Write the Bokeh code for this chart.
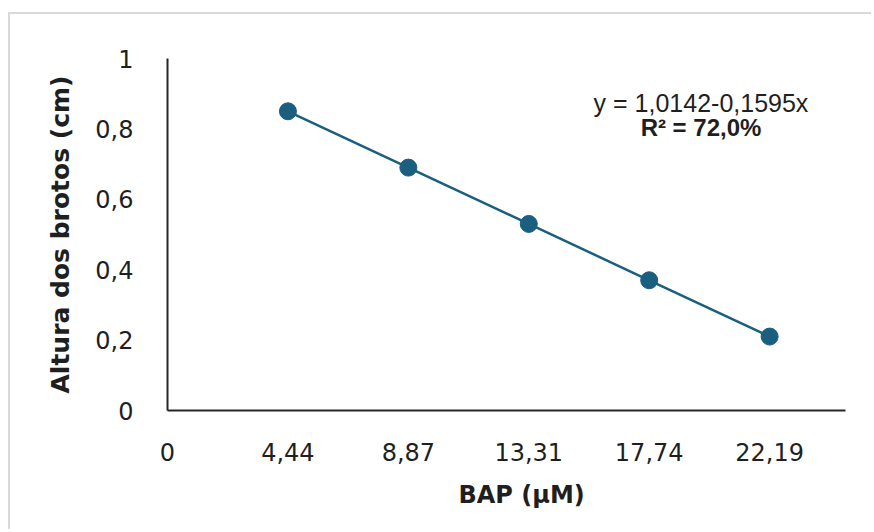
from bokeh.plotting import figure
from bokeh.models import Range1d, FixedTicker, Label, Title
from bokeh.embed import file_html
from bokeh.resources import INLINE

# data
x_tick_labels = ["0", "4,44", "8,87", "13,31", "17,74", "22,19"]
bap_labels = ["4,44", "8,87", "13,31", "17,74", "22,19"]
altura = [0.85, 0.69, 0.53, 0.37, 0.21]
y_ticks = [0, 0.2, 0.4, 0.6, 0.8, 1.0]
y_tick_labels = ["0", "0,2", "0,4", "0,6", "0,8", "1"]
x_title = "BAP (µM)"
y_title = "Altura dos brotos (cm)"
equation = "y = 1,0142-0,1595x"
r2_text = "R² = 72,0%"

xpos = [x_tick_labels.index(b) for b in bap_labels]

COLOR = "#1b5f80"
AXIS_COLOR = "#262626"
TEXT_COLOR = "#1f1f1f"

p = figure(width=863, height=517, output_backend="svg", toolbar_location=None,
           x_range=Range1d(0, 5.63), y_range=Range1d(0, 1),
           min_border_left=157, min_border_right=28, min_border_top=44,
           min_border_bottom=121)
p.margin = (12, 0, 0, 8)
p.styles = {"border-top": "2px solid #d9d9d9", "border-left": "2px solid #d9d9d9"}
p.outline_line_color = None
p.grid.visible = False
p.background_fill_color = "white"
p.border_fill_color = "white"

p.line(xpos, altura, line_color=COLOR, line_width=2.5)
p.scatter(xpos, altura, size=17, fill_color=COLOR, line_color=COLOR)

# x axis
xa = p.xaxis[0]
xa.ticker = FixedTicker(ticks=list(range(len(x_tick_labels))))
xa.major_label_overrides = {i: t for i, t in enumerate(x_tick_labels)}
# y axis
ya = p.yaxis[0]
ya.ticker = FixedTicker(ticks=y_ticks)
ya.major_label_overrides = {t: l for t, l in zip(y_ticks, y_tick_labels)}
ya.axis_label = y_title

for ax in (xa, ya):
    ax.axis_line_color = AXIS_COLOR
    ax.axis_line_width = 2
    ax.major_tick_line_color = None
    ax.minor_tick_line_color = None
    ax.major_label_text_font = "DejaVu Sans"
    ax.major_label_text_font_size = "24px"
    ax.major_label_text_color = TEXT_COLOR
    ax.axis_label_text_font = "DejaVu Sans"
    ax.axis_label_text_font_style = "bold"
    ax.axis_label_text_font_size = "25px"
    ax.axis_label_text_color = TEXT_COLOR

xa.major_label_standoff = 26
ya.major_label_standoff = 28
ya.axis_label_standoff = 17

# x axis title as a Title below the axis, shifted along the axis
p.add_layout(Title(text=x_title, align="left", offset=291, standoff=30,
                   text_font="DejaVu Sans", text_font_style="bold",
                   text_font_size="24px", text_color=TEXT_COLOR), "below")

p.add_layout(Label(x=4.43, y=0.8736, text=equation, text_align="center",
                   text_baseline="middle", text_font="Liberation Sans",
                   text_font_size="25px", text_color=TEXT_COLOR))
p.add_layout(Label(x=4.43, y=0.8026, text=r2_text, text_align="center",
                   text_baseline="middle", text_font="Liberation Sans",
                   text_font_style="bold", text_font_size="24px",
                   text_color=TEXT_COLOR))

open("out.html", "w").write(file_html(p, INLINE))
